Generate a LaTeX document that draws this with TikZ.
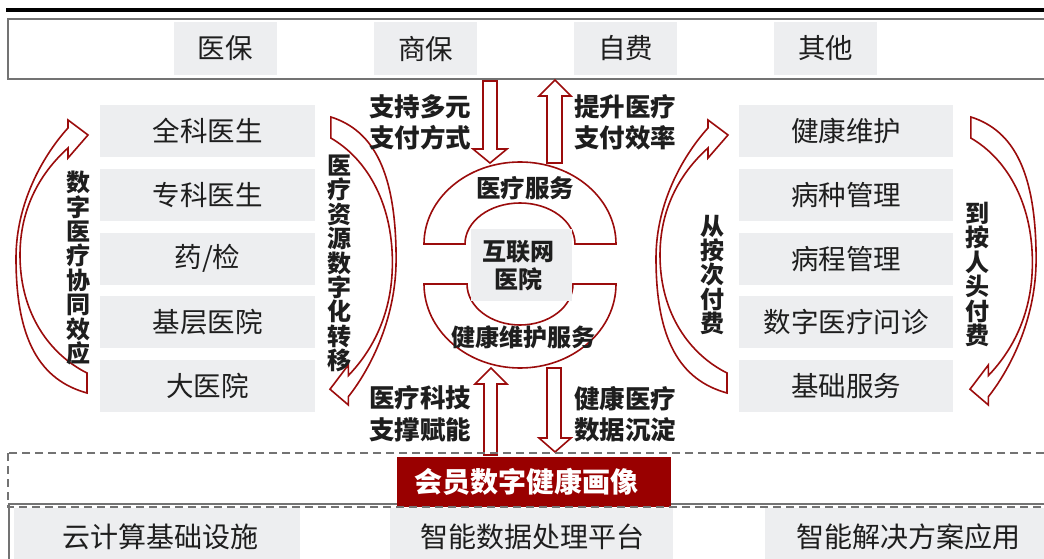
\documentclass[tikz,border=0pt]{standalone}
\usepackage{fontspec}
\setmainfont{Noto Sans CJK SC}
\definecolor{dred}{RGB}{155,12,12}
\definecolor{boxred}{RGB}{153,0,0}
\definecolor{boxgray}{RGB}{237,238,240}
\definecolor{linegray}{RGB}{115,115,115}
\definecolor{txt}{RGB}{30,30,30}
\tikzset{
  graybox/.style={fill=boxgray, draw=none, inner sep=0pt, text=txt,
    font=\fontsize{27.5}{30}\selectfont},
  lab/.style={font=\fontsize{24}{24.4}\selectfont\bfseries, align=center, inner sep=0pt, text=txt},
  lab2/.style={font=\fontsize{25.5}{31.5}\selectfont\bfseries, align=center, inner sep=0pt, text=txt},
  hollow/.style={draw=dred, line width=1.6pt, fill=white, line join=miter},
  carrowl/.pic={
    \draw[hollow] (87,393) .. controls (40,380) and (16,340) .. (16,258)
      .. controls (16,200) and (46,152) .. (68,128) -- (68,120) -- (88,135)
      -- (68,158) -- (68,148) .. controls (48,166) and (20,200) .. (20,255)
      .. controls (20,315) and (51,355) .. (87,373) -- cycle;
  },
  carrowr/.pic={
    \draw[hollow] (330.9,117.0) .. controls (374.1,130.7) and (396.1,172.9) .. (396.1,259.4)
      .. controls (396.1,320.6) and (368.6,371.2) .. (348.4,396.6) -- (348.4,405.0) -- (330.0,389.2)
      -- (348.4,364.9) -- (348.4,375.5) .. controls (366.7,356.5) and (392.4,320.6) .. (392.4,262.6)
      .. controls (392.4,199.3) and (364.0,157.1) .. (330.9,138.1) -- cycle;
  },
}
\begin{document}
\begin{tikzpicture}[x=1pt,y=-1pt]
\useasboundingbox (0,0) rectangle (1044,559);
\clip (0,0) rectangle (1044,559);
\fill[white] (0,0) rectangle (1044,559);

% top rules and payer box
\draw[line width=4pt, black] (6,10) -- (1050,10);
\draw[linegray, line width=2pt] (8,19) rectangle (1070,79);
\node[graybox, minimum width=103pt, minimum height=53pt] (yb) at (225,48.5) {医保};
\node[graybox, minimum width=103pt, minimum height=53pt] (sb) at (425.5,48.5) {商保};
\node[graybox, minimum width=103pt, minimum height=53pt] (zf) at (625.5,48.5) {自费};
\node[graybox, minimum width=103pt, minimum height=53pt] (qt) at (825.5,48.5) {其他};

% left column
\node[graybox, minimum width=215pt, minimum height=52pt] (l1) at (207.5,131) {全科医生};
\node[graybox, minimum width=215pt, minimum height=52pt] (l2) at (207.5,194.8) {专科医生};
\node[graybox, minimum width=215pt, minimum height=52pt] (l3) at (207.5,258.6) {药/检};
\node[graybox, minimum width=215pt, minimum height=52pt] (l4) at (207.5,322.4) {基层医院};
\node[graybox, minimum width=215pt, minimum height=52pt] (l5) at (207.5,386.2) {大医院};

% right column
\node[graybox, minimum width=214pt, minimum height=52pt] (r1) at (846,131) {健康维护};
\node[graybox, minimum width=214pt, minimum height=52pt] (r2) at (846,194.8) {病种管理};
\node[graybox, minimum width=214pt, minimum height=52pt] (r3) at (846,258.6) {病程管理};
\node[graybox, minimum width=214pt, minimum height=52pt] (r4) at (846,322.4) {数字医疗问诊};
\node[graybox, minimum width=214pt, minimum height=52pt] (r5) at (846,386.2) {基础服务};

% curved arrows
\pic at (0,0) {carrowl};
\pic at (0,0) {carrowr};
\pic at (640,0) {carrowl};
\pic at (640,0) {carrowr};

\node[lab] (t1) at (78,268) {数\\字\\医\\疗\\协\\同\\效\\应};
\node[lab] (t2) at (339,263.5) {医\\疗\\资\\源\\数\\字\\化\\转\\移};
\node[lab] (t3) at (712,275) {从\\按\\次\\付\\费};
\node[lab] (t4) at (977,274.5) {到\\按\\人\\头\\付\\费};

% ring
\draw[hollow] (424,244) arc[start angle=180, end angle=360, x radius=96, y radius=82]
  -- (575,244) arc[start angle=0, end angle=-180, x radius=55, y radius=41] -- cycle;
\draw[hollow] (424,284) arc[start angle=180, end angle=0, x radius=96, y radius=84]
  -- (573,284) arc[start angle=0, end angle=180, x radius=53, y radius=41] -- cycle;
\node[graybox, minimum width=101pt, minimum height=72pt] (hos) at (521.5,265) {};
\node[lab2, font=\fontsize{24}{28}\selectfont\bfseries] (hosT) at (518,266) {互联网\\医院};
\node[lab, font=\fontsize{24.5}{28}\selectfont\bfseries] (ylfw) at (525,188) {医疗服务};
\node[lab, font=\fontsize{24}{28}\selectfont\bfseries] (jkfw) at (523.5,337) {健康维护服务};

% straight hollow arrows
\draw[hollow] (483,81) -- (483,149) -- (473,149) -- (490,163) -- (507,149) -- (497,149) -- (497,81) -- cycle;
\draw[hollow] (547,163) -- (547,96) -- (539,96) -- (555,80) -- (571,96) -- (562,96) -- (562,163) -- cycle;
\draw[hollow] (484,455) -- (484,384) -- (475,384) -- (491,368) -- (507,384) -- (497,384) -- (497,455) -- cycle;
\draw[hollow] (547,368) -- (547,438) -- (539,438) -- (555,452) -- (571,438) -- (561,438) -- (561,368) -- cycle;

\node[lab2] (zc) at (420,122.5) {支持多元\\支付方式};
\node[lab2] (ts) at (625,122.5) {提升医疗\\支付效率};
\node[lab2] (kj) at (420,414) {医疗科技\\支撑赋能};
\node[lab2] (sj) at (625,414) {健康医疗\\数据沉淀};

% bottom section
\draw[linegray, line width=2pt] (9,504) rectangle (1070,600);
\node[graybox, minimum width=286pt, minimum height=60pt] (b1) at (157,538) {};
\node[graybox, minimum width=283pt, minimum height=60pt] (b2) at (531.5,538) {};
\node[graybox, minimum width=290pt, minimum height=60pt] (b3) at (910,538) {};
\node[font=\fontsize{28}{30}\selectfont, text=txt, inner sep=0pt] (b1t) at (160,537) {云计算基础设施};
\node[font=\fontsize{28}{30}\selectfont, text=txt, inner sep=0pt] (b2t) at (532,537) {智能数据处理平台};
\node[font=\fontsize{28}{30}\selectfont, text=txt, inner sep=0pt] (b3t) at (908,537) {智能解决方案应用};
\node[fill=boxred, minimum width=274pt, minimum height=50pt, inner sep=0pt] (hx) at (534,482) {};
\node[text=white, font=\fontsize{28}{30}\selectfont\bfseries, inner sep=0pt] (hxt) at (526,482) {会员数字健康画像};
\draw[linegray, line width=1.5pt, dash pattern=on 8pt off 5pt] (8,453) rectangle (1070,507);
\end{tikzpicture}
\end{document}
